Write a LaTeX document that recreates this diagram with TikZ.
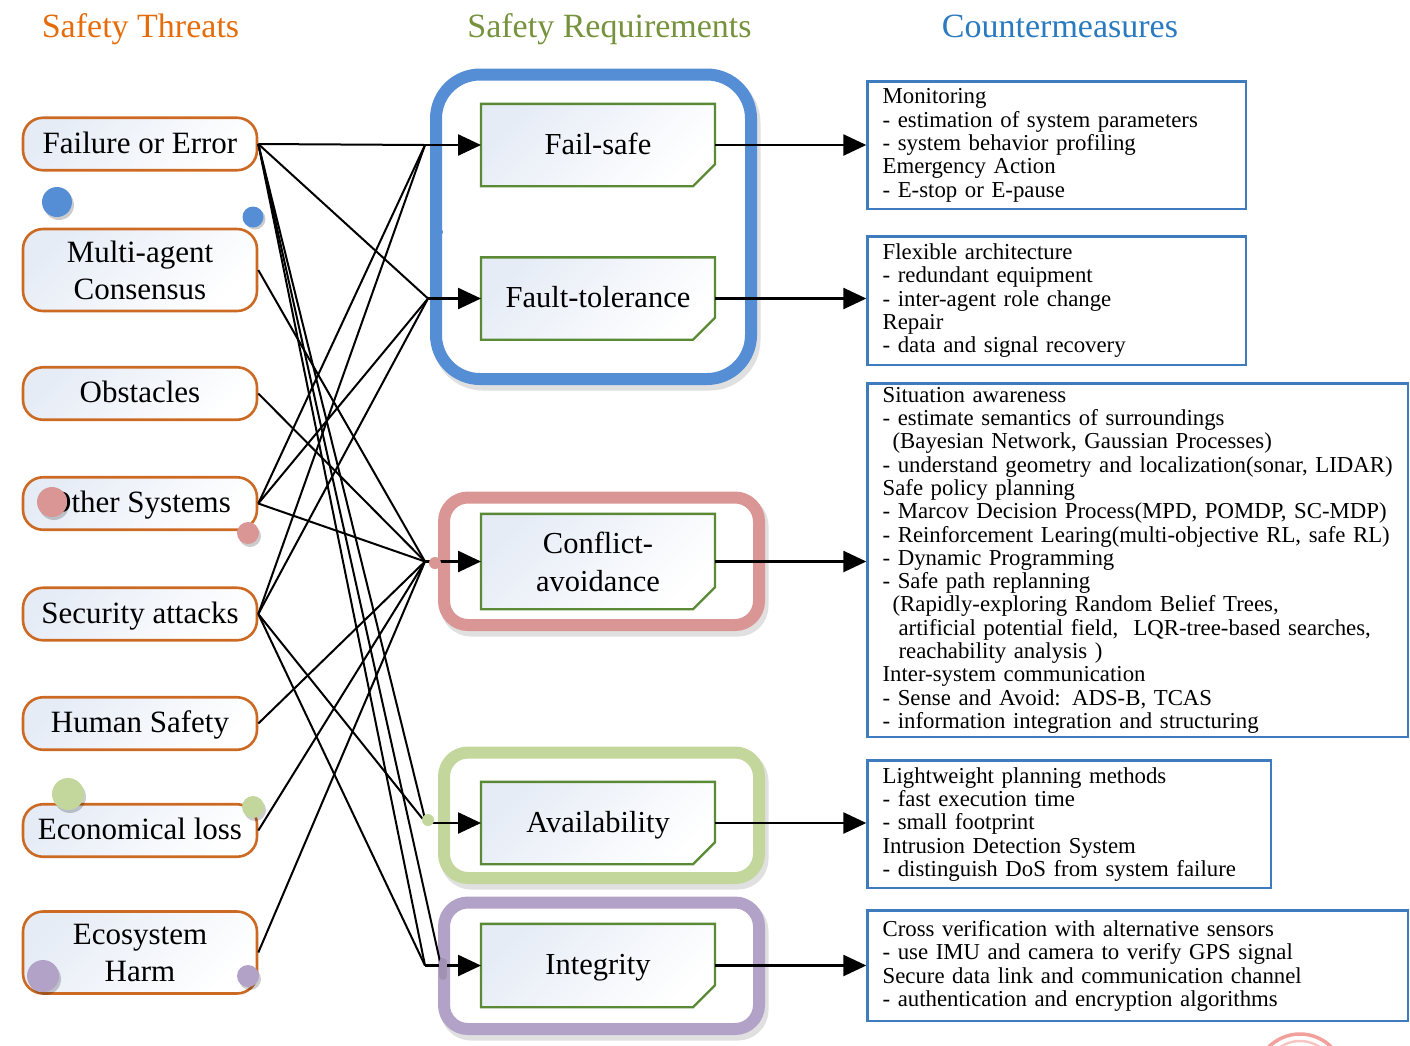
\documentclass[tikz,border=0pt]{standalone}
\usepackage{fontspec}
\setmainfont{Liberation Serif}
\usetikzlibrary{arrows.meta,calc,backgrounds}

\definecolor{threatedge}{HTML}{CC6A24}
\definecolor{reqedge}{HTML}{5A8A35}
\definecolor{cmedge}{HTML}{3F7CBF}
\definecolor{boxtint}{HTML}{E6ECF6}
\definecolor{grpblue}{HTML}{558ED5}
\definecolor{grppink}{HTML}{D99694}
\definecolor{grpgreen}{HTML}{C3D69B}
\definecolor{grppurple}{HTML}{B3A2C7}
\definecolor{titleorange}{HTML}{E46C0A}
\definecolor{titlegreen}{HTML}{76923C}
\definecolor{titleblue}{HTML}{2A7AC0}
\definecolor{arcred}{HTML}{F2A09C}

\begin{document}
\begin{tikzpicture}[x=1pt,y=-1pt,
  heading/.style={font=\fontsize{34}{40}\selectfont, inner sep=0pt, anchor=base},
  threat/.style={draw=threatedge, line width=2.6pt, rounded corners=20pt,
    minimum width=234pt, inner sep=0pt, align=center,
    font=\fontsize{31}{37}\selectfont,
    left color=boxtint, right color=white, shading angle=45},
  oneline/.style={text height=21pt, text depth=3pt},
  reqlabel/.style={minimum width=233.6pt, inner sep=0pt, align=center,
    font=\fontsize{30.5}{38}\selectfont},
  reqshape/.style={draw=reqedge, line width=2.4pt,
    left color=boxtint, right color=white, shading angle=45},
  frame/.style={draw=#1, line width=12pt, fill=white},
  frameshadow/.style={draw=black!12, line width=13pt},
  cmbox/.style={draw=cmedge, line width=2.6pt, anchor=north west,
    inner xsep=15pt, inner ysep=0pt, align=left,
    font=\fontsize{22.8}{23.3}\selectfont},
  link/.style={line width=2pt},
  feed/.style={line width=2.5pt, -{Triangle[length=23pt,width=21pt]}},
  dotshadow/.style={fill=black, opacity=0.2},
]
\useasboundingbox (0,0) rectangle (1410,1045);

% column headings
\node[heading, text=titleorange] (t1) at (140.5,37) {Safety Threats};
\node[heading, text=titlegreen] (t2) at (609.5,37) {Safety Requirements};
\node[heading, text=titleblue] (t3) at (1060,37) {Countermeasures};

% threats
\node[threat, oneline, minimum height=52.5pt] (fail) at (140,144) {Failure or Error};
\node[threat, minimum height=82pt] (multi) at (140,270) {Multi-agent\\Consensus};
\node[threat, oneline, minimum height=52.5pt] (obst) at (140,393.5) {Obstacles};
\node[threat, oneline, minimum height=52.5pt] (other) at (140,503.5) {Other Systems};
\node[threat, oneline, minimum height=52.5pt] (sec) at (140,614) {Security attacks};
\node[threat, oneline, minimum height=52.5pt] (human) at (140,723.5) {Human Safety};
\node[threat, oneline, minimum height=52.5pt] (econ) at (140,830.5) {Economical loss};
\node[threat, minimum height=82pt] (eco) at (140,952.5) {Ecosystem\\Harm};

% requirements
\node[reqlabel, oneline, minimum height=82pt] (fs) at (598,145) {Fail-safe};
\node[reqlabel, oneline, minimum height=82pt] (ft) at (598,298.5) {Fault-tolerance};
\node[reqlabel, minimum height=95pt] (ca) at (598,561.5) {Conflict-\\avoidance};
\node[reqlabel, oneline, minimum height=82pt] (av) at (598,823) {Availability};
\node[reqlabel, oneline, minimum height=83pt] (in) at (598,965.5) {Integrity};

\begin{scope}[on background layer]
  % requirement groups
  \draw[frameshadow, rounded corners=44pt] (439,79) rectangle (754,384);
  \draw[frame=grpblue, rounded corners=44pt] (436,74.5) rectangle (751,379);
  \draw[frameshadow, rounded corners=24pt] (447,502) rectangle (762,630);
  \draw[frame=grppink, rounded corners=24pt] (444,497.5) rectangle (759,625);
  \draw[frameshadow, rounded corners=24pt] (447,757) rectangle (762,883);
  \draw[frame=grpgreen, rounded corners=24pt] (444,752.5) rectangle (759,878);
  \draw[frameshadow, rounded corners=24pt] (447,907) rectangle (762,1034);
  \draw[frame=grppurple, rounded corners=24pt] (444,902.5) rectangle (759,1029);
  % requirement boxes with a cut corner
  \foreach \n in {fs,ft,ca,av,in}
    \path[reqshape] (\n.north west) -- (\n.north east)
      -- ($(\n.south east)+(0,-22)$) -- ($(\n.south east)+(-22,0)$)
      -- (\n.south west) -- cycle;
\end{scope}

% countermeasures
\node[cmbox, text width=348.4pt, minimum height=127.4pt] (cm1) at (866.3,80.3)
  {Monitoring\\
   - estimation of system parameters\\
   - system behavior profiling\\
   Emergency Action\\
   - E-stop or E-pause};
\node[cmbox, text width=348.4pt, minimum height=128.4pt] (cm2) at (866.3,235.3)
  {Flexible architecture\\
   - redundant equipment\\
   - inter-agent role change\\
   Repair\\
   - data and signal recovery};
\node[cmbox, text width=510.4pt, minimum height=353.4pt] (cm3) at (866.3,382.3)
  {Situation awareness\\
   - estimate semantics of surroundings\\
   \hspace*{10pt}(Bayesian Network, Gaussian Processes)\\
   - understand geometry and localization(sonar, LIDAR)\\
   Safe policy planning\\
   - Marcov Decision Process(MPD, POMDP, SC-MDP)\\
   - Reinforcement Learing(multi-objective RL, safe RL)\\
   - Dynamic Programming\\
   - Safe path replanning\\
   \hspace*{10pt}(Rapidly-exploring Random Belief Trees,\\
   \hspace*{16pt}artificial potential field,\ \ LQR-tree-based searches,\\
   \hspace*{16pt}reachability analysis )\\
   Inter-system communication\\
   - Sense and Avoid: ADS-B, TCAS\\
   - information integration and structuring};
\node[cmbox, text width=373.4pt, minimum height=127.4pt] (cm4) at (866.3,759.3)
  {Lightweight planning methods\\
   - fast execution time\\
   - small footprint\\
   Intrusion Detection System\\
   - distinguish DoS from system failure};
\node[cmbox, text width=510.4pt, minimum height=110.4pt] (cm5) at (866.3,909.3)
  {Cross verification with alternative sensors\\
   - use IMU and camera to verify GPS signal\\
   Secure data link and communication channel\\
   - authentication and encryption algorithms};

% junctions in front of each requirement
\coordinate (jfs) at (425,145);
\coordinate (jft) at (428,298.5);
\coordinate (jca) at (425,561.5);
\coordinate (jav) at (426,823);
\coordinate (jin) at (425,965.5);
\coordinate (jin2) at (441,966);

% threat-to-requirement links
\foreach \s/\t in {fail/jfs, fail/jft, fail/jav, fail/jin, fail/jin2,
                   multi/jca, obst/jca,
                   other/jfs, other/jft, other/jca,
                   sec/jfs, sec/jft, sec/jav, sec/jin,
                   human/jca, econ/jca, eco/jca}
  \draw[link] (\s.east) -- (\t);

% arrows into the requirements
\draw[feed] (jfs) -- (fs.west);
\draw[feed] (jft) -- (ft.west);
\draw[feed] (jca) -- (ca.west);
\draw[feed] (jav) -- (av.west);
\draw[feed] (jin) -- (in.west);

% arrows into the countermeasures
\draw[feed] (fs.east) -- (fs.east -| cm1.west);
\draw[feed] (ft.east) -- (ft.east -| cm2.west);
\draw[feed] (ca.east) -- (ca.east -| cm3.west);
\draw[feed] (av.east) -- (av.east -| cm4.west);
\draw[feed] (in.east) -- (in.east -| cm5.west);

% connection dots
\fill[dotshadow] (59,205) circle (15pt);
\fill[grpblue] (57,202) circle (15pt);
\fill[dotshadow] (255,219) circle (10.5pt);
\fill[grpblue] (253,217) circle (10.5pt);
\fill[grpblue] (438,232) circle (5pt);

\fill[dotshadow] (54,505) circle (15pt);
\fill[grppink] (52,502) circle (15pt);
\fill[dotshadow] (250,536) circle (11pt);
\fill[grppink] (248,533) circle (11pt);
\fill[grppink] (435,563) circle (6pt);

\fill[dotshadow] (70,797) circle (16pt);
\fill[grpgreen] (68,794) circle (16pt);
\fill[dotshadow] (255,810) circle (11pt);
\fill[grpgreen] (253,807) circle (11pt);
\fill[grpgreen] (428,820) circle (6pt);

\fill[dotshadow] (45,979) circle (16pt);
\fill[grppurple] (43,976) circle (16pt);
\fill[dotshadow] (250,979) circle (11pt);
\fill[grppurple] (248,976) circle (11pt);
\draw[grppurple!90!black, line width=8pt, line cap=round] (443,962) -- (443,976);

% partly visible ring at the lower edge
\begin{scope}
  \clip (0,0) rectangle (1410,1045);
  \draw[arcred, line width=3.5pt] (1300,1080) ellipse (45pt and 46pt);
  \draw[arcred!60, line width=2.5pt] (1300,1080) ellipse (37pt and 39pt);
\end{scope}
\end{tikzpicture}
\end{document}
